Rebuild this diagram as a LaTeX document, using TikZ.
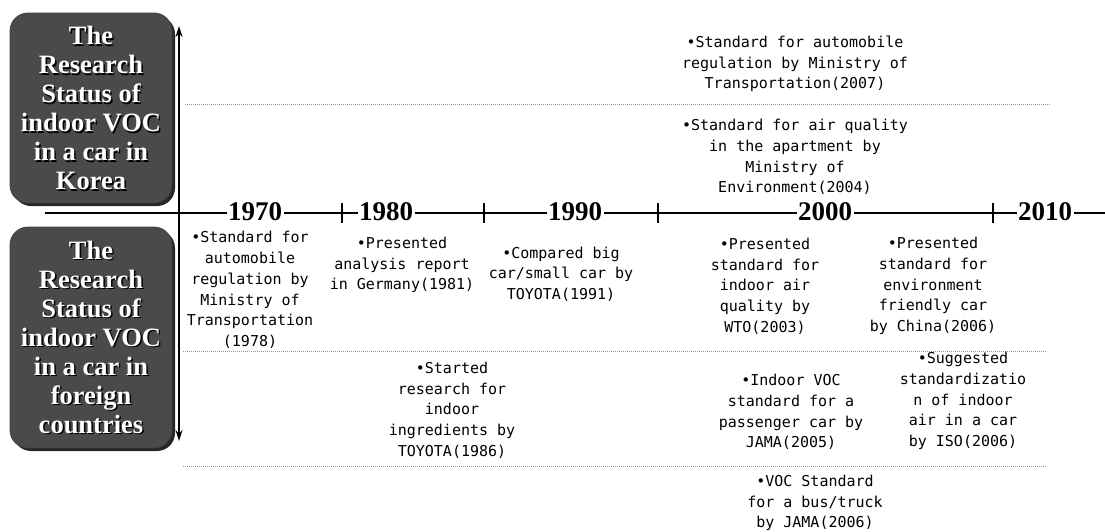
\documentclass[tikz,border=0pt]{standalone}
\usepackage{fontspec}
\setmainfont{Liberation Serif}
\newfontfamily\monof{DejaVu Sans Mono}
\usetikzlibrary{arrows.meta}
\definecolor{boxgray}{RGB}{74,74,74}
\definecolor{dotgray}{RGB}{150,150,150}
\begin{document}
\begin{tikzpicture}[x=1pt,y=-1pt,
  catbox/.style={fill=boxgray, draw=black!75, line width=0.8pt, rounded corners=18pt,
    minimum width=162pt, inner sep=0pt},
  catshadow/.style={fill=black!85, rounded corners=18pt, minimum width=162pt, inner sep=0pt},
  boxtxt/.style={font=\bfseries\fontsize{26.5}{29}\selectfont, align=center, inner sep=0pt},
  item/.style={font=\monof\fontsize{15}{20.7}\selectfont, align=center, inner sep=0pt},
  year/.style={font=\bfseries\fontsize{27}{27}\selectfont, fill=white, inner sep=1.5pt},
  axisline/.style={line width=2pt},
  tickmark/.style={line width=2pt},
  dotline/.style={dotgray, line width=0.8pt, dash pattern=on 1pt off 1pt},
  vaxis/.style={line width=1.6pt, {Stealth[length=11pt,width=7pt]}-{Stealth[length=11pt,width=7pt]}}
]
\useasboundingbox (0,0) rectangle (1105,531);

% category boxes
\node[catshadow, minimum height=190pt] (koreash) at (94,111) {};
\node[catbox, minimum height=190pt] (korea) at (91,108) {};
\node[catshadow, minimum height=221pt] (foreignsh) at (94,340.5) {};
\node[catbox, minimum height=221pt] (foreign) at (91,337.5) {};

\node[boxtxt, text=black] (koreatsh) at (92.5,109.5) {The\\Research\\Status of\\indoor VOC\\in a car in\\Korea};
\node[boxtxt, text=white] (koreat) at (91,108) {The\\Research\\Status of\\indoor VOC\\in a car in\\Korea};
\node[boxtxt, text=black] (foreigntsh) at (92.5,338.5) {The\\Research\\Status of\\indoor VOC\\in a car in\\foreign\\countries};
\node[boxtxt, text=white] (foreignt) at (91,337) {The\\Research\\Status of\\indoor VOC\\in a car in\\foreign\\countries};

% axes
\coordinate (axl) at (45,213);
\coordinate (axr) at (1105,213);
\draw[axisline] (axl) -- (axr);
\coordinate (vtop) at (179,26);
\coordinate (vbot) at (179,441);
\draw[vaxis] (vbot) -- (vtop);

% ticks
\foreach \tx/\nm in {342/ta,484/tb,658/tc,993/td}{
  \coordinate (\nm1) at (\tx,203);
  \coordinate (\nm2) at (\tx,223);
  \draw[tickmark] (\nm1) -- (\nm2);
}

% years
\node[year] (y1970) at (255,212) {1970};
\node[year] (y1980) at (386,212) {1980};
\node[year] (y1990) at (575,212) {1990};
\node[year] (y2000) at (825,212) {2000};
\node[year] (y2010) at (1045,212) {2010};

% dotted separators
\coordinate (d1a) at (185,104); \coordinate (d1b) at (1050,104);
\coordinate (d2a) at (183,351); \coordinate (d2b) at (1047,351);
\coordinate (d3a) at (183,466); \coordinate (d3b) at (1047,466);
\draw[dotline] (d1a) -- (d1b);
\draw[dotline] (d2a) -- (d2b);
\draw[dotline] (d3a) -- (d3b);

% items - Korea
\node[item] (k2007) at (795,64) {•Standard for automobile\\regulation by Ministry of\\Transportation(2007)};
\node[item] (k2004) at (795,157) {•Standard for air quality\\in the apartment by\\Ministry of\\Environment(2004)};

% items - foreign, row 1
\node[item] (f1978) at (250,290) {•Standard for\\automobile\\regulation by\\Ministry of\\Transportation\\(1978)};
\node[item] (f1981) at (402,265) {•Presented\\analysis report\\in Germany(1981)};
\node[item] (f1991) at (561,274) {•Compared big\\car/small car by\\TOYOTA(1991)};
\node[item] (f2003) at (765,286) {•Presented\\standard for\\indoor air\\quality by\\WTO(2003)};
\node[item] (f2006a) at (933,286) {•Presented\\standard for\\environment\\friendly car\\by China(2006)};

% row 2
\node[item] (f1986) at (452,410) {•Started\\research for\\indoor\\ingredients by\\TOYOTA(1986)};
\node[item] (f2005) at (791,412) {•Indoor VOC\\standard for a\\passenger car by\\JAMA(2005)};
\node[item] (f2006b) at (963,401) {•Suggested\\standardizatio\\n of indoor\\air in a car\\by ISO(2006)};

% row 3
\node[item] (f2006c) at (815,503) {•VOC Standard\\for a bus/truck\\by JAMA(2006)};
\end{tikzpicture}
\end{document}
